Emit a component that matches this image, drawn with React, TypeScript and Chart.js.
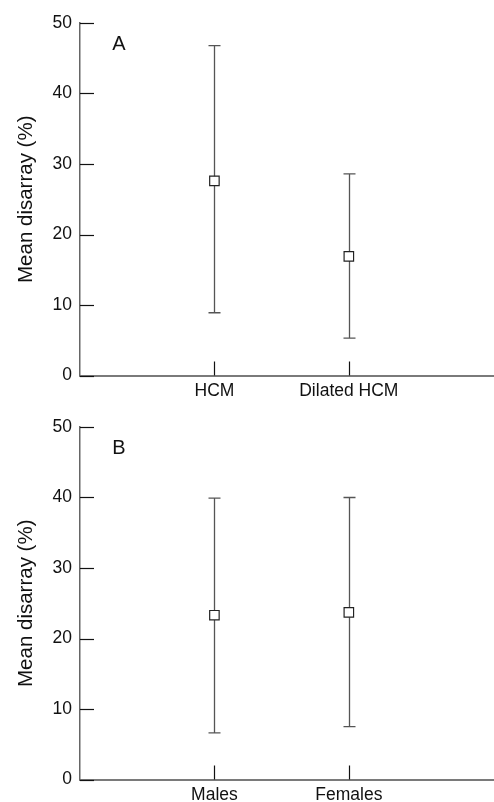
import React, { useEffect, useRef } from "react";
import { Chart, registerables } from "chart.js";

Chart.register(...registerables);

// Panel A
const categoriesA = ["HCM", "Dilated HCM"];
const meanA = [27.6, 16.9];
const lowA = [8.9, 5.3];
const highA = [46.8, 28.6];

// Panel B
const categoriesB = ["Males", "Females"];
const meanB = [23.3, 23.7];
const lowB = [6.6, 7.5];
const highB = [39.9, 40.0];

const yTicks = [0, 10, 20, 30, 40, 50];
const yTitle = "Mean disarray (%)";

const FONT = "'Liberation Sans', Arial, Helvetica, sans-serif";

function makeConfig(letter: string, cats: string[], mean: number[], low: number[], high: number[], height: number) {
  const errPlugin = {
    id: "errbars" + letter,
    beforeDatasetsDraw(chart: any) {
      const ctx = chart.ctx;
      const xs = chart.scales.x;
      const ys = chart.scales.y;
      const area = chart.chartArea;
      ctx.save();
      // inside y ticks
      ctx.strokeStyle = "#111";
      ctx.lineWidth = 1.2;
      yTicks.forEach((v) => {
        const py = Math.round(ys.getPixelForValue(v)) + 0.5;
        ctx.beginPath();
        ctx.moveTo(area.left, py);
        ctx.lineTo(area.left + 14, py);
        ctx.stroke();
      });
      // inside category ticks
      cats.forEach((c, i) => {
        const px = Math.round(xs.getPixelForValue(i + 1)) + 0.5;
        ctx.beginPath();
        ctx.moveTo(px, area.bottom);
        ctx.lineTo(px, area.bottom - 14);
        ctx.stroke();
      });
      // error bars
      ctx.strokeStyle = "#555";
      ctx.lineWidth = 1.3;
      mean.forEach((m, i) => {
        const px = Math.round(xs.getPixelForValue(i + 1)) + 0.5;
        const pl = ys.getPixelForValue(low[i]);
        const ph = ys.getPixelForValue(high[i]);
        ctx.beginPath();
        ctx.moveTo(px, ph);
        ctx.lineTo(px, pl);
        ctx.moveTo(px - 6, ph);
        ctx.lineTo(px + 6, ph);
        ctx.moveTo(px - 6, pl);
        ctx.lineTo(px + 6, pl);
        ctx.stroke();
      });
      // panel letter
      ctx.fillStyle = "#111";
      ctx.font = `20px ${FONT}`;
      ctx.textAlign = "center";
      ctx.textBaseline = "middle";
      ctx.fillText(letter, area.left + 39, area.top + 21);
      ctx.restore();
    },
  };

  return {
    type: "scatter" as const,
    data: {
      datasets: [
        {
          data: mean.map((m, i) => ({ x: i + 1, y: m })),
          pointStyle: "rect",
          pointRadius: 6.7,
          pointBackgroundColor: "#ffffff",
          pointBorderColor: "#222",
          pointBorderWidth: 1.2,
          showLine: false,
        },
      ],
    },
    options: {
      animation: false,
      responsive: false,
      events: [],
      layout: { autoPadding: false, padding: { top: 23, left: 0, right: 0, bottom: 0 } },
      plugins: { legend: { display: false }, tooltip: { enabled: false } },
      scales: {
        x: {
          type: "linear",
          min: 0,
          max: 3.08,
          afterBuildTicks: (scale: any) => {
            scale.ticks = cats.map((c, i) => ({ value: i + 1 }));
          },
          afterFit: (scale: any) => {
            scale.height = height - 23 - 352.5;
            scale.paddingLeft = 0;
            scale.paddingRight = 0;
          },
          ticks: {
            autoSkip: false,
            maxRotation: 0,
            padding: 5,
            color: "#111",
            font: { family: FONT, size: 17.5 },
            callback: (v: number) => cats[Math.round(v) - 1] ?? "",
          },
          grid: { display: false, drawTicks: false },
          border: { display: true, color: "#7a7a7a", width: 2 },
        },
        y: {
          min: 0,
          max: 50,
          afterBuildTicks: (scale: any) => {
            scale.ticks = yTicks.map((v) => ({ value: v }));
          },
          afterFit: (scale: any) => {
            scale.width = 80;
            scale.paddingTop = 0;
            scale.paddingBottom = 0;
          },
          ticks: {
            padding: 8,
            color: "#111",
            font: { family: FONT, size: 17.5 },
          },
          grid: { display: false, drawTicks: false },
          border: { display: true, color: "#666", width: 1.5 },
          title: {
            display: true,
            text: yTitle,
            color: "#111",
            font: { family: FONT, size: 20.5 },
            padding: { top: 14, bottom: 0 },
          },
        },
      },
    },
    plugins: [errPlugin],
  };
}

function Panel(props: { letter: string; cats: string[]; mean: number[]; low: number[]; high: number[]; top: number; height: number }) {
  const ref = useRef<HTMLCanvasElement | null>(null);
  useEffect(() => {
    if (!ref.current) return;
    const chart = new Chart(ref.current, makeConfig(props.letter, props.cats, props.mean, props.low, props.high, props.height) as any);
    return () => chart.destroy();
  }, []);
  return (
    <canvas
      ref={ref}
      width={494}
      height={props.height}
      style={{ position: "absolute", left: 0, top: props.top, width: 494, height: props.height }}
    />
  );
}

export default function App() {
  return (
    <div style={{ position: "fixed", left: 0, top: 0, width: 494, height: 802, background: "#fff" }}>
      <Panel letter="A" cats={categoriesA} mean={meanA} low={lowA} high={highA} top={0} height={400} />
      <Panel letter="B" cats={categoriesB} mean={meanB} low={lowB} high={highB} top={404} height={398} />
    </div>
  );
}
